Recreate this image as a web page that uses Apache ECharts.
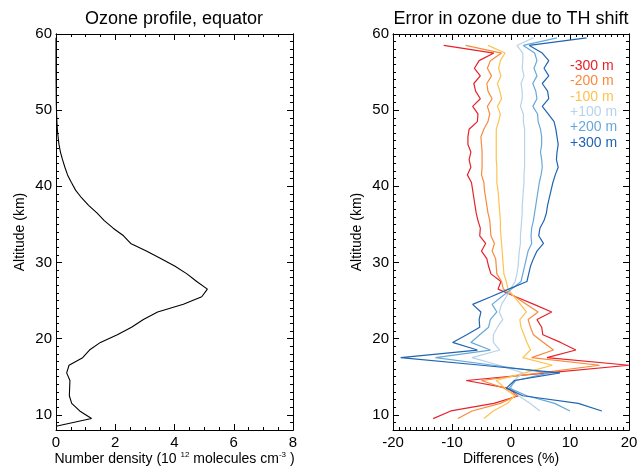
<!DOCTYPE html>
<html><head><meta charset="utf-8">
<script src="https://cdn.jsdelivr.net/npm/echarts@6/dist/echarts.min.js"></script>
<style>html,body{margin:0;padding:0;background:#fff}#c{width:638px;height:466px}</style>
</head><body><div id="c"></div>
<script>
// Altitude levels (km), top to bottom
const altitudes = [59.5,58.5,57.5,56.5,55.5,54.5,53.5,52.5,51.5,50.5,
  49.5,48.5,47.5,46.5,45.5,44.5,43.5,42.5,41.5,40.5,
  39.5,38.5,37.5,36.5,35.5,34.5,33.5,32.5,31.5,30.5,
  29.5,28.5,27.5,26.5,25.5,24.5,23.5,22.5,21.5,20.5,
  19.5,18.5,17.5,16.5,15.5,14.5,13.5,12.5,11.5,10.5,
  9.5,8.5];
// Ozone number density (1e12 molecules cm^-3)
const ozone = [0,0,0,0,0,0.002,0.004,0.006,0.008,0.012,
  0.02,0.03,0.045,0.07,0.10,0.15,0.22,0.30,0.39,0.52,
  0.66,0.86,1.10,1.38,1.63,1.93,2.28,2.52,3.05,3.55,
  4.02,4.42,4.75,5.11,4.92,4.30,3.43,2.95,2.55,2.07,
  1.50,1.13,0.90,0.44,0.36,0.47,0.46,0.45,0.53,0.80,
  1.20,0.0];
// Differences (%) for each tangent height shift
const diffM300 = [null,-11.4,-2.9,-5.4,-6.2,-5.2,-6.3,-6.0,-5.2,-6.5,
  -5.6,-5.7,-7.1,-7.3,-7.3,-6.8,-7.1,-6.8,-7.4,-6.7,
  -6.5,-6.3,-6.1,-5.9,-5.6,-5.2,-5.3,-4.3,-5.0,-4.1,
  -3.8,-3.4,-1.7,-2.2,0.8,3.9,6.9,4.4,5.2,5.4,
  8.4,11.0,6.1,20.0,6.2,-7.6,-0.6,1.3,-2.9,-10.2,
  -13.2,null];
const diffM200 = [null,-7.7,-1.6,-3.5,-4.0,-3.3,-4.1,-3.9,-3.2,-4.0,
  -3.6,-3.9,-4.6,-5.1,-5.0,-4.9,-4.9,-4.9,-5.0,-4.6,
  -4.5,-4.3,-4.1,-3.9,-3.6,-3.5,-3.4,-2.8,-3.2,-2.6,
  -2.5,-2.4,-1.6,-1.3,0.7,2.6,4.6,2.9,3.3,3.8,
  5.5,7.2,3.5,15.0,5.0,-5.0,-1.2,0.9,-1.8,-6.6,
  -9.0,null];
const diffM100 = [null,-3.9,-1.0,-1.8,-2.1,-1.7,-2.3,-1.9,-1.6,-2.3,
  -1.8,-2.1,-2.5,-2.5,-2.5,-2.5,-2.5,-2.4,-2.4,-2.4,
  -2.2,-2.1,-2.0,-1.9,-1.8,-1.8,-1.7,-1.6,-1.5,-1.4,
  -1.3,-1.2,-0.8,-0.5,0.5,1.6,2.6,1.5,1.7,2.2,
  2.7,3.3,2.0,7.0,2.3,-2.5,-1.0,0.6,-0.6,-3.0,
  -4.6,null];
const diffP100 = [3.8,1.0,2.0,2.0,1.9,2.2,1.7,1.9,1.9,1.6,
  2.1,2.1,2.3,2.3,2.3,2.3,2.3,2.3,2.2,2.2,
  2.1,2.0,1.9,1.9,1.8,1.7,1.6,1.6,1.4,1.3,
  1.2,1.0,0.7,-0.1,-0.8,-1.6,-2.0,-1.4,-2.3,-3.0,
  -3.0,-1.9,-6.6,-2.0,2.0,0.5,0.0,1.3,3.2,4.9,
  null,null];
const diffP200 = [7.8,2.1,4.0,4.4,3.9,4.4,3.7,4.2,4.4,3.7,
  4.5,4.6,5.0,5.2,5.2,5.0,5.2,5.3,5.1,4.8,
  4.6,4.4,4.2,4.0,3.8,3.5,3.4,3.5,2.9,2.6,
  2.3,2.0,1.7,0.1,-1.6,-3.2,-2.4,-3.5,-3.8,-5.3,
  -6.8,-3.5,-12.8,-3.0,6.5,0.8,-0.3,2.7,7.4,10.0,
  null,null];
const diffP300 = [12.8,3.1,5.3,6.4,5.6,6.4,5.3,6.2,6.4,5.3,
  6.3,7.3,7.6,7.8,8.0,7.8,7.7,8.0,7.5,7.1,
  6.8,6.5,6.2,6.0,5.6,4.9,4.7,5.5,4.4,3.8,
  3.3,3.0,2.7,-0.4,-3.4,-6.5,-5.1,-5.4,-5.3,-7.5,
  -9.9,-5.7,-18.7,-5.0,8.3,0.6,-0.8,2.0,11.4,15.4,
  null,null];
const shiftNames = ['-300 m','-200 m','-100 m','+100 m','+200 m','+300 m'];
const leftXTicks = [0, 8, 2];     // min, max, interval
const rightXTicks = [-20, 20, 10];
const yRange = [8, 60];
const yMajor = [10, 20, 30, 40, 50, 60];

const diffSeries = [diffM300, diffM200, diffM100, diffP100, diffP200, diffP300];
const colors = ['#e6222a', '#f98a3a', '#fdc24f', '#b7d3ea', '#67a8d8', '#2064b2'];
const FONT = '"Liberation Sans", Arial, Helvetica, sans-serif';

function pairs(vals) {
  const out = [];
  vals.forEach((v, i) => { if (v !== null) out.push([v, altitudes[i]]); });
  return out;
}

const axisLineStyle = { show: true, onZero: false, lineStyle: { color: '#000', width: 1 } };
const labelStyle = { color: '#000', fontSize: 15, fontFamily: FONT };

function xAxes(gridIndex, rng, minorSplit, name) {
  const common = {
    type: 'value', gridIndex, min: rng[0], max: rng[1], interval: rng[2],
    splitLine: { show: false }, axisLine: axisLineStyle,
    axisTick: { inside: true, length: 6, lineStyle: { color: '#000' } },
    minorTick: { show: true, splitNumber: minorSplit, length: 3, lineStyle: { color: '#000' } },
    minorSplitLine: { show: false }
  };
  return [
    Object.assign({}, common, {
      position: 'bottom',
      axisLabel: Object.assign({ margin: 5 }, labelStyle),
      name: name, nameLocation: 'middle', nameGap: 21, nameMoveOverlap: false,
      nameTextStyle: {
        color: '#000', fontSize: 14, fontFamily: FONT, lineHeight: 16,
        rich: { sup: { fontSize: 8, lineHeight: 8, verticalAlign: 'top', fontFamily: FONT, color: '#000' } }
      }
    }),
    Object.assign({}, common, { position: 'top', axisLabel: { show: false } })
  ];
}

function yAxes(gridIndex) {
  const common = {
    type: 'value', gridIndex, min: yRange[0], max: yRange[1],
    splitLine: { show: false }, axisLine: axisLineStyle
  };
  const major = {
    axisTick: { inside: true, length: 6, customValues: yMajor, lineStyle: { color: '#000' } }
  };
  const minor = {
    interval: 1,
    axisTick: { inside: true, length: 3, lineStyle: { color: '#000' } },
    axisLabel: { show: false }
  };
  return [
    Object.assign({}, common, major, {
      position: 'left',
      axisLabel: Object.assign({ customValues: yMajor, margin: 4 }, labelStyle),
      name: 'Altitude (km)', nameLocation: 'middle', nameGap: 29, nameMoveOverlap: false,
      nameTextStyle: { color: '#000', fontSize: 14, fontFamily: FONT }
    }),
    Object.assign({}, common, minor, { position: 'left' }),
    Object.assign({}, common, major, { position: 'right', axisLabel: { show: false } }),
    Object.assign({}, common, minor, { position: 'right' })
  ];
}

const series = [{
  type: 'line', name: 'ozone', xAxisIndex: 0, yAxisIndex: 0,
  data: pairs(ozone), symbol: 'none', lineStyle: { color: '#000', width: 1.1 }, silent: true
}];
diffSeries.forEach((arr, k) => {
  series.push({
    type: 'line', name: shiftNames[k], xAxisIndex: 2, yAxisIndex: 4,
    data: pairs(arr), symbol: 'none', color: colors[k],
    lineStyle: { color: colors[k], width: 1.2 }, silent: true
  });
});

const chart = echarts.init(document.getElementById('c'), null, { renderer: 'canvas' });
chart.setOption({
  animation: false,
  backgroundColor: '#fff',
  grid: [
    { left: 56, top: 34, width: 237, height: 396, outerBoundsMode: 'none', containLabel: false },
    { left: 393, top: 34, width: 236, height: 396, outerBoundsMode: 'none', containLabel: false }
  ],
  xAxis: [].concat(
    xAxes(0, leftXTicks, 4, 'Number density (10 {sup|12} molecules cm{sup|-3} )'),
    xAxes(1, rightXTicks, 10, 'Differences (%)')
  ),
  yAxis: [].concat(yAxes(0), yAxes(1)),
  legend: {
    orient: 'vertical', left: 560, top: 54, icon: 'none', itemWidth: 0, itemHeight: 14, itemGap: 1.4,
    selectedMode: false,
    textStyle: { fontSize: 14, fontFamily: FONT },
    data: shiftNames.map((n, k) => ({ name: n, textStyle: { color: colors[k], fontSize: 14, fontFamily: FONT } }))
  },
  graphic: [
    { type: 'text', x: 174, y: 19, style: { text: 'Ozone profile, equator', x: 0, y: 0, align: 'center', verticalAlign: 'middle', fontSize: 18, fontFamily: FONT, fill: '#000' } },
    { type: 'text', x: 511, y: 19, style: { text: 'Error in ozone due to TH shift', x: 0, y: 0, align: 'center', verticalAlign: 'middle', fontSize: 18, fontFamily: FONT, fill: '#000' } }
  ],
  series: series
});
</script>
</body></html>
